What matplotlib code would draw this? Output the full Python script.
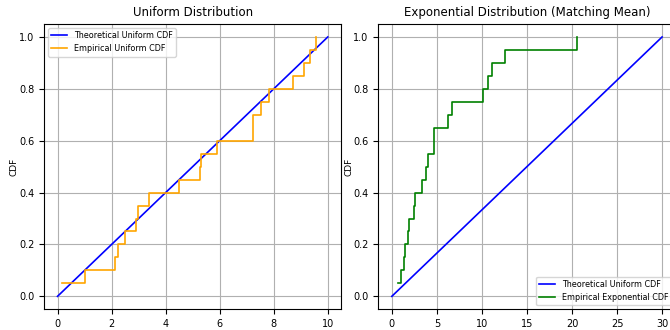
import numpy as np
import matplotlib
matplotlib.use("Agg")
import matplotlib.pyplot as plt

# muestras (20 por distribucion)
uniform_samples = [0.16, 1.00, 2.11, 2.23, 2.48, 2.91, 2.98, 3.40, 4.49, 5.28,
                   5.30, 5.89, 7.22, 7.24, 7.54, 7.81, 8.71, 9.11, 9.33, 9.55]
exp_samples = [0.73, 1.03, 1.36, 1.43, 1.84, 1.92, 2.48, 2.62, 3.33, 3.85,
               4.00, 4.68, 4.72, 6.19, 6.71, 10.17, 10.72, 11.10, 12.58, 20.57]
uniform_range = [0, 10]
exp_uniform_range = [0, 30]
cdf_range = [0, 1]

plt.rcParams['font.size'] = 7

fig = plt.figure(figsize=(6.7, 3.3), dpi=100)
W, H = 670, 330
ax1 = fig.add_axes([44 / W, (H - 309.3) / H, 297.3 / W, 285.3 / H])
ax2 = fig.add_axes([378.3 / W, (H - 309.3) / H, 297.3 / W, 285.3 / H])

# --- Panel izquierdo: uniforme ---
xs = np.sort(uniform_samples)
ys = np.arange(1, len(xs) + 1) / len(xs)
ax1.plot(uniform_range, cdf_range, color='blue', linewidth=1.2, label='Theoretical Uniform CDF')
ax1.step(xs, ys, where='post', color='orange', linewidth=1.2, label='Empirical Uniform CDF')
ax1.set_title('Uniform Distribution', fontsize=8.5)
ax1.set_xlabel('x')
ax1.set_ylabel('CDF', fontsize=6.5)
ax1.yaxis.set_label_coords(-0.087, 0.5)
ax1.legend(loc='upper left', fontsize=5.8)
ax1.grid(True)

# --- Panel derecho: exponencial ---
xe = np.sort(exp_samples)
ye = np.arange(1, len(xe) + 1) / len(xe)
ax2.plot(exp_uniform_range, cdf_range, color='blue', linewidth=1.2, label='Theoretical Uniform CDF')
ax2.step(xe, ye, where='post', color='green', linewidth=1.2, label='Empirical Exponential CDF')
ax2.set_title('Exponential Distribution (Matching Mean)', fontsize=8.5)
ax2.set_xlabel('x')
ax2.set_ylabel('CDF', fontsize=6.5)
ax2.yaxis.set_label_coords(-0.085, 0.5)
ax2.legend(loc='lower right', fontsize=5.8)
ax2.grid(True)

fig.savefig('out.png', dpi=100)
